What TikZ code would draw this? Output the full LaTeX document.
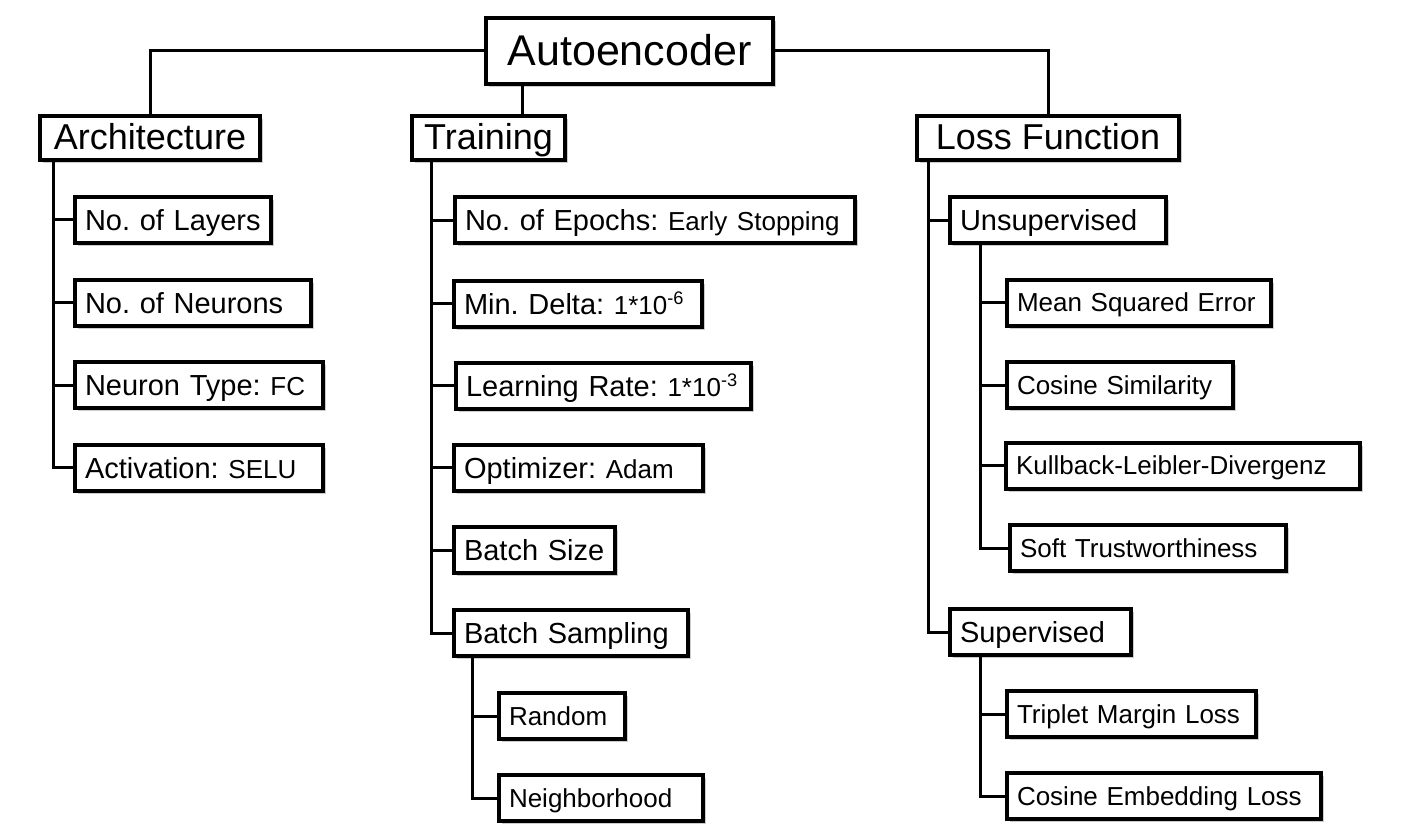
\documentclass[tikz,border=0pt]{standalone}
\usepackage{fontspec}
\setmainfont{Liberation Sans}
\usepackage{tikz}
\usetikzlibrary{calc, shadows, positioning}

\newcommand{\subtxt}[1]{{\fontsize{26}{31}\selectfont #1}}
\frenchspacing

\begin{document}
\begin{tikzpicture}[x=1pt, y=-1pt,
    box/.style={draw, line width=4pt, fill=white, anchor=west, inner xsep=10pt, inner ysep=0pt, align=left,
        execute at begin node={\frenchspacing\hyphenpenalty=10000},
        drop shadow={shadow xshift=3pt, shadow yshift=-3pt, fill=black!40, opacity=0.5}},
    lv0/.style={box, anchor=center, align=center, font=\fontsize{43}{50}\selectfont,
        minimum width=287pt, minimum height=66pt, text height=32pt, text depth=2pt},
    lv1/.style={box, align=center, font=\fontsize{36}{42}\selectfont,
        minimum height=44pt, text height=26pt, text depth=2pt},
    lv2/.style={box, font=\fontsize{29}{34}\selectfont, minimum height=46pt, text height=24pt, text depth=3pt},
    lv3/.style={box, font=\fontsize{26}{31}\selectfont, minimum height=46pt, text height=21pt, text depth=2.5pt},
    wire/.style={line width=3pt}]

    \useasboundingbox (0,0) rectangle (1404,834);

    % Root
    \node[lv0] (AE) at (629.5,51) {Autoencoder};

    % Architecture branch
    \node[lv1, minimum width=220pt] (Arch) at (38,138) {Architecture};
    \node[lv2, text width=176pt] (A1) at (73,220) {No. of Layers};
    \node[lv2, text width=216pt] (A2) at (73,302.5) {No. of Neurons};
    \node[lv2, text width=228pt] (A3) at (73,385) {Neuron Type: \subtxt{FC}};
    \node[lv2, text width=228pt] (A4) at (73,467.5) {Activation: \subtxt{SELU}};

    % Training branch
    \node[lv1, minimum width=153pt] (Train) at (410,138) {Training};
    \node[lv2, text width=380pt] (T1) at (453,220.5) {No. of Epochs: \subtxt{Early Stopping}};
    \node[lv2, text width=228pt] (T2) at (452,303.5) {Min. Delta: \subtxt{1*10\textsuperscript{-6}}};
    \node[lv2, text width=275pt] (T3) at (454,385.5) {Learning Rate: \subtxt{1*10\textsuperscript{-3}}};
    \node[lv2, text width=229pt] (T4) at (452,467.5) {Optimizer: \subtxt{Adam}};
    \node[lv2, text width=141pt] (T5) at (452,550) {Batch Size};
    \node[lv2, text width=214pt] (T6) at (452,633) {Batch Sampling};
    \node[lv3, text width=106pt] (S1) at (497,716) {Random};
    \node[lv3, text width=184pt] (S2) at (497,798) {Neighborhood};

    % Loss function branch
    \node[lv1, minimum width=262pt] (Loss) at (915,138) {Loss Function};
    \node[lv2, text width=196pt] (Unsup) at (948,220.5) {Unsupervised};
    \node[lv3, text width=244pt] (U1) at (1005,302.5) {Mean Squared Error};
    \node[lv3, text width=206pt] (U2) at (1005,385) {Cosine Similarity};
    \node[lv3, text width=334pt] (U3) at (1004,465.5) {Kullback-Leibler-Divergenz};
    \node[lv3, text width=256pt] (U4) at (1008,548) {Soft Trustworthiness};
    \node[lv2, text width=161pt] (Sup) at (948,632) {Supervised};
    \node[lv3, text width=229pt] (V1) at (1005,714) {Triplet Margin Loss};
    \node[lv3, text width=294pt] (V2) at (1005,796) {Cosine Embedding Loss};

    % Root to branches
    \coordinate (tk) at (522,0);
    \draw[wire] (AE.west) -| (Arch.north);
    \draw[wire] (AE.east) -| (Loss.north);
    \draw[wire] (AE.south -| tk) -- (Train.north -| tk);

    % Trunks
    \coordinate (ta) at ([xshift=15pt]Arch.south west);
    \coordinate (tt) at ([xshift=21pt]Train.south west);
    \coordinate (ts) at ([xshift=20pt]T6.south west);
    \coordinate (tl) at ([xshift=13pt]Loss.south west);
    \coordinate (tu) at ([xshift=32pt]Unsup.south west);
    \coordinate (tv) at ([xshift=32pt]Sup.south west);

    \draw[wire] (ta) |- (A4.west);
    \foreach \n in {A1,A2,A3} \draw[wire] (\n.west) -- (\n.west -| ta);

    \draw[wire] (tt) |- (T6.west);
    \foreach \n in {T1,T2,T3,T4,T5} \draw[wire] (\n.west) -- (\n.west -| tt);
    \draw[wire] (ts) |- (S2.west);
    \draw[wire] (S1.west) -- (S1.west -| ts);

    \draw[wire] (tl) |- (Sup.west);
    \draw[wire] (Unsup.west) -- (Unsup.west -| tl);
    \draw[wire] (tu) |- (U4.west);
    \foreach \n in {U1,U2,U3} \draw[wire] (\n.west) -- (\n.west -| tu);
    \draw[wire] (tv) |- (V2.west);
    \draw[wire] (V1.west) -- (V1.west -| tv);

\end{tikzpicture}
\end{document}
